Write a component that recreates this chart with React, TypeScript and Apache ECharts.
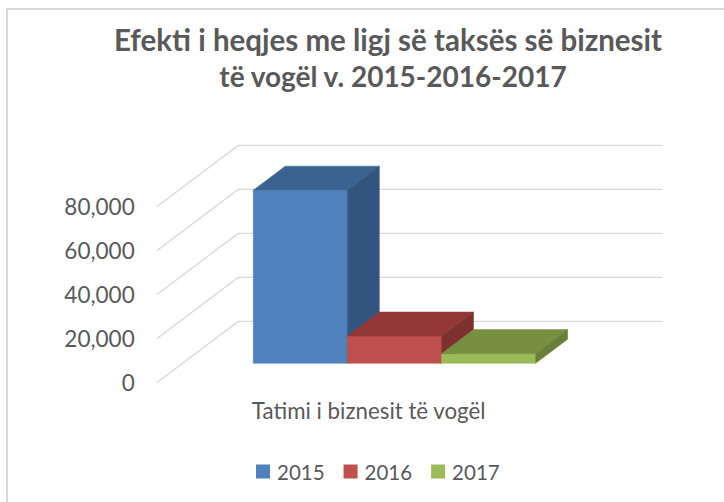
import React, { useEffect, useRef } from "react";
import * as echarts from "echarts";

// ---- data ----
const categories = ["Tatimi i biznesit të vogël"];
const seriesNames = ["2015", "2016", "2017"];
const values2015 = [78700];
const values2016 = [12400];
const values2017 = [4400];
const yTicks = [0, 20000, 40000, 60000, 80000];
const titleLines = ["Efekti i heqjes me ligj së taksës së biznesit", "të vogël v. 2015-2016-2017"];

// ---- styling / projection constants ----
const FONT = "Lato, 'Open Sans', sans-serif";
const TEXT = "#595959";
const GRID_LEFT = 156.7;
const GRID_TOP = 206.7;
const GRID_W = 424;
const GRID_H = 176;
const DEPTH_DX = 81.5;
const DEPTH_DY = -61.3;
const BAR_FRONT = 0.316; // fraction of floor depth where bars start
const BAR_DEPTH = 0.392; // fraction of floor depth taken by bars
const BAR_FRAC = 0.222; // bar width as fraction of category band

const palette = [
  { front: "#4F81BD", top: "#3B6391", side: "#325580" },
  { front: "#C0504D", top: "#933836", side: "#7D302E" },
  { front: "#9BBB59", top: "#778F41", side: "#6A7E3A" },
];

const seriesValues = [values2015, values2016, values2017];

export default function App() {
  const ref = useRef<HTMLDivElement>(null);

  useEffect(() => {
    if (!ref.current) return;
    const chart = echarts.init(ref.current, undefined, { renderer: "svg" });

    const fx = BAR_FRONT * DEPTH_DX;
    const fy = BAR_FRONT * DEPTH_DY;
    const bdx = BAR_DEPTH * DEPTH_DX;
    const bdy = BAR_DEPTH * DEPTH_DY;

    const barSeries = seriesValues.map((vals, i) => ({
      type: "custom",
      name: seriesNames[i],
      coordinateSystem: "cartesian2d",
      clip: false,
      itemStyle: { color: palette[i].front },
      data: vals.map((v, ci) => [ci, v]),
      renderItem: (params: any, api: any) => {
        const cat = api.value(0);
        const v = api.value(1);
        const base = api.coord([cat, 0]);
        const topP = api.coord([cat, v]);
        const catW = api.size([1, 0])[0];
        const barW = catW * BAR_FRAC;
        const xL = base[0] + fx - 1.5 * barW + i * barW;
        const xR = xL + barW;
        const yB = base[1] + fy;
        const yT = topP[1] + fy;
        const c = palette[i];
        return {
          type: "group",
          children: [
            {
              type: "rect",
              shape: { x: xL, y: yT, width: barW, height: yB - yT },
              style: { fill: c.front, stroke: c.front, lineWidth: 0.5 },
            },
            {
              type: "polygon",
              shape: {
                points: [
                  [xL, yT],
                  [xR, yT],
                  [xR + bdx, yT + bdy],
                  [xL + bdx, yT + bdy],
                ],
              },
              style: { fill: c.top, stroke: c.top, lineWidth: 0.5 },
            },
            {
              type: "polygon",
              shape: {
                points: [
                  [xR, yT],
                  [xR + bdx, yT + bdy],
                  [xR + bdx, yB + bdy],
                  [xR, yB],
                ],
              },
              style: { fill: c.side, stroke: c.side, lineWidth: 0.5 },
            },
          ],
        };
      },
    }));

    const gridSeries = {
      type: "custom",
      name: "grid",
      coordinateSystem: "cartesian2d",
      clip: false,
      silent: true,
      data: yTicks.map((v) => [0, v]),
      renderItem: (params: any, api: any) => {
        const v = api.value(1);
        const p = api.coord([0, v]);
        const cs = params.coordSys;
        const x0 = cs.x;
        return {
          type: "polyline",
          shape: {
            points: [
              [x0, p[1]],
              [x0 + DEPTH_DX, p[1] + DEPTH_DY],
              [x0 + cs.width + DEPTH_DX, p[1] + DEPTH_DY],
            ],
          },
          style: { stroke: "#D9D9D9", lineWidth: 1.3, fill: null },
        };
      },
    };

    chart.setOption({
      animation: false,
      backgroundColor: "#FFFFFF",
      textStyle: { fontFamily: FONT },
      graphic: [
        {
          type: "rect",
          shape: { x: 7, y: 9, width: 900, height: 700 },
          style: { fill: null, stroke: "#D9D9D9", lineWidth: 2 },
          silent: true,
        },
        {
          type: "text",
          x: 388,
          y: 39,
          style: {
            text: titleLines[0],
            font: `bold 29.5px ${FONT}`,
            fill: TEXT,
            align: "center",
            verticalAlign: "middle",
          },
        },
        {
          type: "text",
          x: 393,
          y: 76,
          style: {
            text: titleLines[1],
            font: `bold 28px ${FONT}`,
            fill: TEXT,
            align: "center",
            verticalAlign: "middle",
          },
        },
      ],
      legend: {
        data: seriesNames,
        left: 256,
        top: 461,
        padding: 0,
        icon: "rect",
        itemWidth: 14,
        itemHeight: 14,
        itemGap: 19,
        textStyle: { fontSize: 20.5, color: TEXT, fontFamily: FONT, padding: [0, 0, 0, 2] },
        selectedMode: false,
      },
      grid: {
        left: GRID_LEFT,
        top: GRID_TOP,
        width: GRID_W,
        height: GRID_H,
        containLabel: false,
        outerBoundsMode: "none",
      },
      xAxis: {
        type: "category",
        data: categories,
        axisLine: { show: false },
        axisTick: { show: false },
        splitLine: { show: false },
        axisLabel: { fontSize: 22.3, color: TEXT, margin: 17, fontFamily: FONT },
      },
      yAxis: {
        type: "value",
        min: 0,
        max: 80000,
        interval: 20000,
        axisLine: { show: false },
        axisTick: { show: false },
        splitLine: { show: false },
        axisLabel: { fontSize: 22.5, color: TEXT, margin: 22, fontFamily: FONT },
      },
      series: [gridSeries, ...barSeries],
    });

    return () => chart.dispose();
  }, []);

  return (
    <div
      ref={ref}
      style={{ position: "absolute", left: 0, top: 0, width: 724, height: 502 }}
    />
  );
}
